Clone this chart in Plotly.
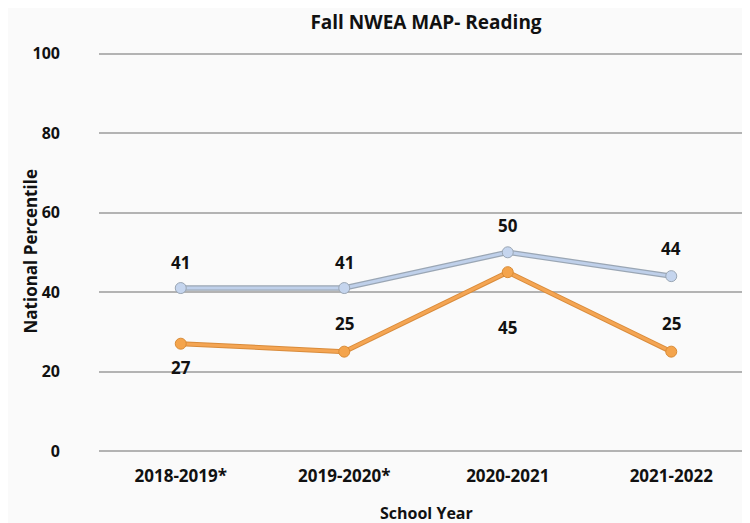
import plotly.graph_objects as go

years = ["2018-2019*", "2019-2020*", "2020-2021", "2021-2022"]
blue_vals = [41, 41, 50, 44]
orange_vals = [27, 25, 45, 25]
y_ticks = [0, 20, 40, 60, 80, 100]

# label offsets in px (style, not data)
blue_label_shift = [26, 26, 27, 28]
orange_label_shift = [-24, 28, -55, 28]

FONT = "Open Sans"
TXT = "#111111"
BG = "#fafafa"

fig = go.Figure()
fig.add_trace(go.Scatter(x=years, y=blue_vals, mode="lines",
                         line=dict(color="#9aa6b4", width=5.5), showlegend=False, hoverinfo="skip"))
fig.add_trace(go.Scatter(x=years, y=blue_vals, mode="lines+markers",
                         line=dict(color="#bfd0ea", width=3),
                         marker=dict(size=11, color="#c5d5ee", line=dict(color="#9aa6b4", width=1)),
                         showlegend=False, cliponaxis=False))
fig.add_trace(go.Scatter(x=years, y=orange_vals, mode="lines",
                         line=dict(color="#d98b3a", width=5), showlegend=False, hoverinfo="skip"))
fig.add_trace(go.Scatter(x=years, y=orange_vals, mode="lines+markers",
                         line=dict(color="#f4a553", width=3),
                         marker=dict(size=11, color="#f4a44c", line=dict(color="#d98b35", width=1)),
                         showlegend=False, cliponaxis=False))

for vals, shifts in [(blue_vals, blue_label_shift), (orange_vals, orange_label_shift)]:
    for x, v, s in zip(years, vals, shifts):
        fig.add_annotation(x=x, y=v, text=str(v), showarrow=False, yshift=s,
                           font=dict(family=FONT, size=17, color=TXT, weight="bold"))

fig.add_annotation(text="School Year", xref="paper", yref="paper", x=0.5, y=0,
                   yshift=-62, showarrow=False, xanchor="center", yanchor="middle",
                   font=dict(family=FONT, size=16, color=TXT, weight="bold"))
fig.add_annotation(text="National Percentile", xref="paper", yref="paper", x=0, y=0.5,
                   xshift=-69, showarrow=False, textangle=-90, xanchor="center", yanchor="middle",
                   font=dict(family=FONT, size=17, color=TXT, weight="bold"))

fig.update_layout(
    width=750, height=523,
    margin=dict(l=91, r=5, t=44, b=80),
    paper_bgcolor=BG, plot_bgcolor=BG,
    title=dict(text="Fall NWEA MAP- Reading", x=0.5, xref="paper", y=1 - 14 / 523,
               yref="container", yanchor="middle",
               font=dict(family=FONT, size=19, color=TXT, weight="bold")),
    font=dict(family=FONT, color=TXT),
)
fig.update_xaxes(
    range=[-0.5, 3.5], showgrid=False, showline=False, zeroline=False, automargin=False,
    tickfont=dict(family=FONT, size=17, color=TXT, weight="bold"),
    ticklabelstandoff=13,
)
fig.update_yaxes(
    range=[0, 100.4], tickvals=y_ticks, showgrid=True, gridcolor="#b3b3b3", gridwidth=1.6,
    zeroline=True, zerolinecolor="#b3b3b3", zerolinewidth=2, showline=False, automargin=False,
    tickfont=dict(family=FONT, size=16, color=TXT, weight="bold"),
    ticklabelstandoff=38,
)
fig.write_html("out.html")
